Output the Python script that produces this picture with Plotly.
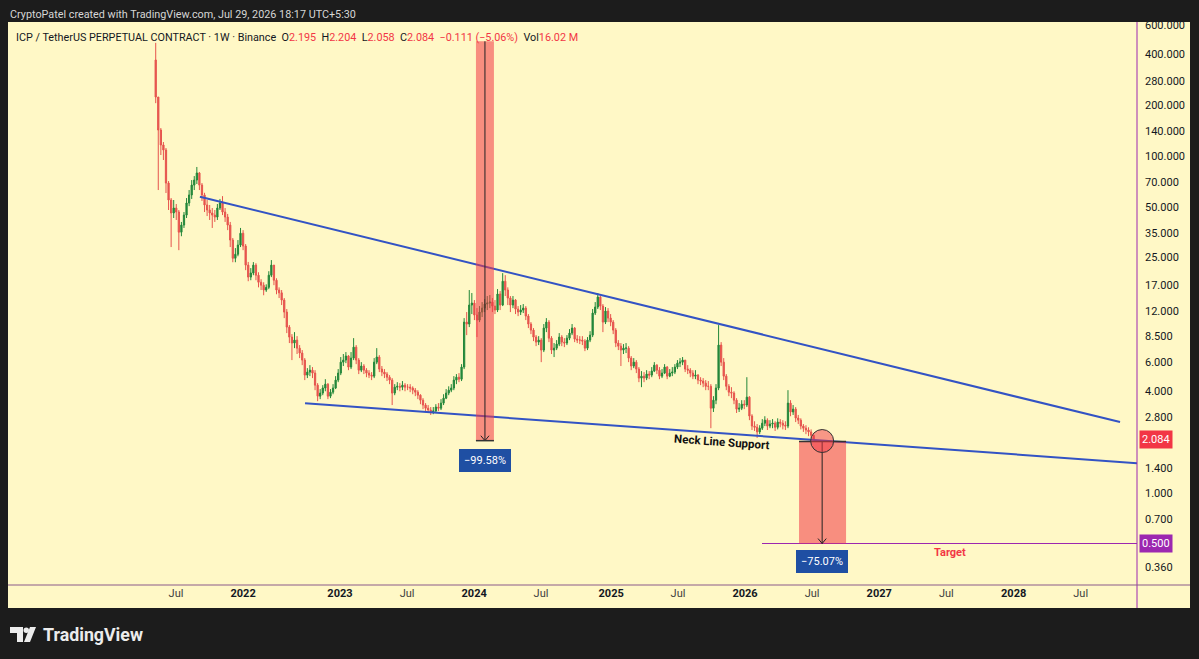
import math
import plotly.graph_objects as go

# ---------------- data (weekly candles, ICP/USDT perp) ----------------
first_open = 372
close = [
    224, 142.7, 116.3, 108.6, 69.1, 54.8, 45.9, 49.1, 46.5, 35.3,
    38.9, 44.6, 52.6, 58.7, 67.2, 72.0, 79.3, 67.2, 58.7, 51.2,
    47.8, 45.9, 44.6, 43.4, 49.1, 52.6, 46.5, 43.4, 38.9, 31.7,
    24.7, 26.1, 29.6, 34.8, 29.2, 22.5, 19.1, 20.2, 22.5, 19.6,
    17.8, 17.1, 16.0, 16.6, 19.6, 22.5, 18.3, 16.0, 15.4, 13.95,
    11.84, 9.64, 8.41, 7.75, 8.07, 7.23, 6.76, 6.14, 5.00, 5.21,
    5.35, 5.14, 4.36, 3.75, 3.91, 4.19, 4.42, 3.75, 3.96, 4.19,
    4.67, 5.14, 5.97, 6.14, 6.49, 5.58, 6.31, 7.33, 6.14, 5.35,
    5.66, 5.35, 5.14, 5.00, 4.93, 5.97, 6.40, 5.43, 5.21, 5.07,
    4.86, 4.67, 3.91, 4.24, 4.29, 4.24, 4.36, 4.24, 4.24, 4.19,
    4.07, 3.96, 3.80, 3.55, 3.32, 3.18, 3.10, 3.02, 3.06, 3.23,
    3.18, 3.41, 3.65, 3.91, 4.07, 4.19, 4.67, 4.86, 4.73, 5.58,
    10.32, 10.05, 13.03, 13.39, 11.37, 10.61, 11.84, 12.5, 13.21, 13.39,
    13.57, 12.85, 12.17, 15.15, 13.03, 18.05, 16.0, 14.34, 13.03, 13.95,
    12.33, 11.84, 12.17, 12.5, 11.21, 10.05, 9.25, 8.41, 7.85, 8.07,
    7.04, 9.51, 10.32, 8.29, 7.04, 7.23, 7.64, 8.41, 7.85, 7.75,
    8.29, 8.88, 9.51, 8.18, 8.07, 8.07, 7.96, 7.23, 8.07, 8.64,
    11.68, 12.68, 14.54, 12.85, 10.32, 12.0, 10.91, 10.32, 9.25, 7.75,
    7.43, 7.04, 7.23, 7.23, 6.31, 5.66, 5.97, 5.43, 4.80, 4.93,
    4.80, 5.07, 5.00, 5.28, 5.73, 5.35, 4.93, 5.14, 5.58, 4.93,
    5.14, 5.21, 5.58, 5.89, 5.97, 6.14, 5.43, 5.35, 5.14, 4.93,
    5.00, 4.67, 4.61, 4.48, 4.29, 4.29, 3.18, 3.55, 4.19, 7.54,
    5.97, 4.93, 4.29, 3.96, 3.91, 3.55, 3.14, 3.18, 3.36, 3.32,
    3.70, 2.86, 2.49, 2.45, 2.30, 2.42, 2.59, 2.70, 2.49, 2.56,
    2.59, 2.45, 2.63, 2.59, 2.52, 2.49, 3.41, 3.02, 3.14, 2.78,
    2.70, 2.49, 2.42, 2.36, 2.30, 2.195, 2.084,
]
high = [
    470, 224, 146.6, 121.1, 111.6, 71.0, 56.3, 54.8, 51.9, 47.8,
    40.6, 46.5, 56.3, 62.8, 72.0, 76.0, 86.1, 80.4, 69.1, 60.5,
    54.8, 51.2, 49.1, 47.8, 51.9, 55.6, 57.8, 49.1, 45.3, 40.6,
    32.6, 28.4, 31.7, 37.4, 36.3, 30.0, 23.5, 21.6, 23.45, 23.1,
    20.4, 18.55, 17.8, 17.3, 20.7, 24.1, 22.2, 18.8, 16.6, 16.0,
    14.34, 12.34, 9.91, 8.76, 9.0, 8.52, 7.54, 7.04, 6.31, 5.50,
    5.73, 5.58, 5.35, 4.48, 4.13, 4.36, 4.73, 4.48, 4.13, 4.42,
    4.93, 5.43, 6.40, 6.67, 6.85, 6.57, 6.85, 8.29, 7.54, 6.31,
    5.97, 5.81, 5.50, 5.35, 5.21, 6.31, 7.23, 6.57, 5.66, 5.43,
    5.21, 5.00, 4.80, 4.42, 4.54, 4.48, 4.61, 4.48, 4.42, 4.42,
    4.29, 4.19, 4.07, 3.85, 3.65, 3.41, 3.32, 3.23, 3.23, 3.36,
    3.41, 3.60, 3.85, 4.13, 4.29, 4.42, 4.93, 5.07, 5.14, 5.81,
    10.9, 11.84, 16.0, 15.36, 13.95, 12.5, 12.85, 13.57, 14.14, 14.74,
    14.94, 14.34, 13.95, 16.22, 15.78, 20.16, 19.6, 16.6, 14.74, 14.74,
    14.14, 12.85, 13.03, 13.21, 12.85, 11.52, 10.32, 9.51, 8.64, 8.52,
    8.29, 10.05, 10.9, 10.61, 8.52, 7.75, 8.07, 8.88, 8.64, 8.29,
    8.64, 9.38, 10.05, 9.64, 8.64, 8.52, 8.52, 8.18, 8.41, 9.12,
    12.34, 13.57, 15.36, 14.74, 13.21, 12.68, 12.5, 11.52, 10.61, 9.51,
    8.07, 7.75, 7.64, 7.75, 7.43, 6.49, 6.31, 6.14, 5.58, 5.28,
    5.21, 5.35, 5.28, 5.58, 5.97, 5.81, 5.58, 5.43, 5.81, 5.66,
    5.43, 5.58, 5.81, 6.14, 6.31, 6.40, 6.14, 5.73, 5.50, 5.35,
    5.35, 5.07, 4.86, 4.80, 4.67, 4.61, 4.42, 3.75, 4.42, 9.91,
    7.85, 6.31, 5.07, 4.42, 4.24, 4.01, 3.65, 3.41, 3.55, 3.55,
    4.86, 3.75, 2.93, 2.66, 2.56, 2.52, 2.74, 2.85, 2.77, 2.70,
    2.74, 2.66, 2.77, 2.74, 2.70, 2.66, 4.07, 3.55, 3.32, 3.23,
    2.90, 2.77, 2.56, 2.52, 2.45, 2.38, 2.204,
]
low = [
    206, 62.8, 101.4, 94.7, 60.3, 47.8, 28.8, 42.85, 41.7, 27.6,
    33.4, 37.4, 42.85, 50.4, 55.6, 62.8, 68.2, 62.8, 54.1, 46.5,
    44.0, 41.7, 37.4, 40.6, 41.7, 47.8, 44.6, 40.6, 36.3, 28.8,
    23.4, 23.4, 25.4, 28.8, 27.6, 21.0, 18.05, 18.3, 19.6, 18.3,
    16.6, 16.0, 14.9, 15.6, 16.2, 19.1, 17.1, 15.1, 14.34, 13.03,
    10.9, 8.88, 7.75, 6.14, 7.23, 6.67, 6.31, 5.73, 4.67, 4.80,
    4.93, 4.80, 4.07, 3.50, 3.60, 3.80, 4.01, 3.60, 3.65, 3.85,
    4.13, 4.54, 5.00, 5.66, 5.89, 5.35, 5.43, 6.14, 5.81, 5.07,
    5.21, 5.07, 4.86, 4.80, 4.67, 4.80, 5.81, 5.21, 4.93, 4.80,
    4.61, 4.42, 3.32, 3.80, 4.07, 4.01, 4.07, 4.01, 4.07, 3.96,
    3.85, 3.75, 3.60, 3.36, 3.14, 3.06, 2.98, 2.90, 2.93, 2.98,
    3.06, 3.10, 3.32, 3.60, 3.80, 3.96, 4.07, 4.42, 4.54, 4.61,
    5.43, 8.64, 9.64, 11.52, 10.61, 8.41, 10.32, 11.06, 11.84, 12.17,
    12.5, 11.84, 11.52, 11.84, 12.17, 12.85, 14.74, 13.03, 11.84, 12.5,
    11.52, 11.2, 11.37, 11.68, 10.61, 9.51, 8.76, 7.96, 7.43, 7.54,
    5.97, 6.85, 9.0, 7.85, 6.67, 6.40, 7.04, 7.43, 7.43, 7.33,
    7.54, 8.07, 8.64, 7.85, 7.75, 7.64, 7.54, 6.94, 7.04, 7.85,
    8.41, 11.37, 12.34, 12.17, 9.0, 10.05, 10.32, 9.76, 8.76, 7.33,
    7.04, 5.66, 6.67, 6.76, 5.97, 5.35, 5.50, 5.14, 4.54, 4.24,
    4.54, 4.67, 4.73, 4.86, 5.21, 5.07, 4.73, 4.80, 5.07, 4.73,
    4.86, 4.93, 5.07, 5.43, 5.58, 5.73, 5.21, 5.07, 4.86, 4.73,
    4.73, 4.42, 4.36, 4.24, 4.07, 4.07, 2.42, 3.02, 3.36, 4.07,
    5.66, 4.67, 4.07, 3.75, 3.65, 3.36, 2.98, 3.02, 3.10, 3.14,
    3.23, 2.70, 2.36, 2.33, 2.12, 2.23, 2.36, 2.49, 2.36, 2.42,
    2.42, 2.33, 2.38, 2.45, 2.38, 2.36, 2.42, 2.85, 2.90, 2.63,
    2.56, 2.38, 2.30, 2.23, 2.17, 2.12, 2.058,
]
open_ = [first_open] + close[:-1]
bar = list(range(len(close)))

# x-axis labels (bar index of each label)
x_tick_bars = [7.9, 34.0, 71.7, 97.8, 123.9, 149.9, 177.2, 203.2, 229.3, 255.4, 281.5, 307.6, 333.8, 359.9]
x_tick_text = ["Jul", "2022", "2023", "Jul", "2024", "Jul", "2025", "Jul", "2026", "Jul", "2027", "Jul", "2028", "Jul"]
y_ticks = [600, 400, 280, 200, 140, 100, 70, 50, 35, 25, 17, 12, 8.5, 6, 4, 2.8, 1.4, 1.0, 0.7, 0.36]

# drawings (bar index, price)
upper_line = ([17.2, 375.2], [57.3, 2.63])
lower_line = ([58.1, 381.8], [3.40, 1.50])
measure1 = dict(x0=124.6, x1=131.6, xa=128.1, top=480, bottom=2.04, label="−99.58%")
measure2 = dict(x0=250.3, x1=268.6, xa=259.3, top=2.02, bottom=0.50, label="−75.07%")
target_price = 0.5
target_start = 235.9
last_price = 2.084

# ---------------- style ----------------
X_RANGE = [-57.47, 381.8]
Y_RANGE = [math.log10(0.2835), math.log10(625)]
BG_DARK = "#1c1c1c"
BG_YELLOW = "#fff8c6"
UP = "#23873a"
DOWN = "#e6544d"
BLUE = "#3353c4"
PURPLE = "#9c27b0"
RED = "#f23645"
FONT = "Roboto"
L, R, T, B = 8, 62, 22, 74
W, H = 1199, 659
PW, PH = W - L - R, H - T - B


def px(xp):
    return (xp - L) / PW


def py(yp):
    return (H - B - yp) / PH


fig = go.Figure()

fig.add_trace(go.Candlestick(
    x=bar, open=open_, high=high, low=low, close=close,
    increasing=dict(line=dict(color=UP, width=1), fillcolor=UP),
    decreasing=dict(line=dict(color=DOWN, width=1), fillcolor=DOWN),
    whiskerwidth=0, hoverinfo="skip", showlegend=False,
))

# trend lines
for xs, ys in (upper_line, lower_line):
    fig.add_trace(go.Scatter(x=xs, y=ys, mode="lines", line=dict(color=BLUE, width=2),
                             hoverinfo="skip", showlegend=False))

# target line
fig.add_trace(go.Scatter(x=[target_start, X_RANGE[1]], y=[target_price, target_price], mode="lines",
                         line=dict(color=PURPLE, width=1), hoverinfo="skip", showlegend=False))

# measure boxes
for m in (measure1, measure2):
    fig.add_trace(go.Scatter(
        x=[m["x0"], m["x1"], m["x1"], m["x0"], m["x0"]],
        y=[m["bottom"], m["bottom"], m["top"], m["top"], m["bottom"]],
        mode="lines", fill="toself", fillcolor="rgba(242,54,69,0.55)",
        line=dict(width=0), hoverinfo="skip", showlegend=False))
    fig.add_trace(go.Scatter(x=[m["xa"], m["xa"]], y=[m["top"], m["bottom"]], mode="lines",
                             line=dict(color="#222222", width=1), hoverinfo="skip", showlegend=False))
    fig.add_trace(go.Scatter(x=[m["xa"] - 1.6, m["xa"], m["xa"] + 1.6],
                             y=[m["bottom"] * 1.07, m["bottom"], m["bottom"] * 1.07], mode="lines",
                             line=dict(color="#222222", width=1), hoverinfo="skip", showlegend=False))

# edge lines of measures
fig.add_trace(go.Scatter(x=[measure1["x0"], measure1["x1"]], y=[measure1["bottom"]] * 2, mode="lines",
                         line=dict(color="#333333", width=1.5), hoverinfo="skip", showlegend=False))
fig.add_trace(go.Scatter(x=[measure2["x0"], measure2["x1"]], y=[measure2["top"]] * 2, mode="lines",
                         line=dict(color="#333333", width=1.5), hoverinfo="skip", showlegend=False))

# circle
fig.add_trace(go.Scatter(x=[measure2["xa"]], y=[2.03], mode="markers",
                         marker=dict(size=23, color="rgba(242,54,69,0.5)", line=dict(color="#333333", width=1)),
                         hoverinfo="skip", showlegend=False))

ann = []
# measure labels
ann.append(dict(x=measure1["xa"], y=math.log10(1.56), xref="x", yref="y", text=measure1["label"],
                showarrow=False, font=dict(color="white", size=11, family=FONT),
                bgcolor="#1f4fa3", bordercolor="#1f4fa3", borderpad=4))
ann.append(dict(x=measure2["xa"], y=math.log10(0.39), xref="x", yref="y", text=measure2["label"],
                showarrow=False, font=dict(color="white", size=11, family=FONT),
                bgcolor="#1f4fa3", bordercolor="#1f4fa3", borderpad=4))
ann.append(dict(x=220.5, y=math.log10(1.99), xref="x", yref="y", text="<b>Neck Line Support</b>",
                showarrow=False, textangle=4, font=dict(color="#111111", size=11.5, family=FONT)))
ann.append(dict(x=309, y=math.log10(0.442), xref="x", yref="y", text="<b>Target</b>",
                showarrow=False, font=dict(color=RED, size=11, family=FONT)))
# axis price labels
ann.append(dict(x=px(1139), y=math.log10(last_price), xref="paper", yref="y", xanchor="left",
                text=f"{last_price:.3f}", showarrow=False, font=dict(color="white", size=11, family=FONT),
                bgcolor=RED, borderpad=2))
ann.append(dict(x=px(1139), y=math.log10(target_price), xref="paper", yref="y", xanchor="left",
                text=f"{target_price:.3f}", showarrow=False, font=dict(color="white", size=11, family=FONT),
                bgcolor=PURPLE, borderpad=2))
# header legend
rs = "<span style='color:#f23645'>"
hdr = ("ICP / TetherUS PERPETUAL CONTRACT · 1W · Binance  "
       f"O{rs}2.195</span>  H{rs}2.204</span>  L{rs}2.058</span>  C{rs}2.084</span>  "
       f"{rs}−0.111 (−5.06%)</span>  Vol{rs}16.02 M</span>")
ann.append(dict(x=px(14), y=py(37), xref="paper", yref="paper", xanchor="left", yanchor="middle",
                text=hdr, showarrow=False, font=dict(color="#131722", size=10.8, family=FONT)))
# top caption
ann.append(dict(x=px(8), y=py(14), xref="paper", yref="paper", xanchor="left", yanchor="middle",
                text="CryptoPatel created with TradingView.com, Jul 29, 2026 18:17 UTC+5:30",
                showarrow=False, font=dict(color="#d6d6d6", size=10.8, family=FONT)))
# footer brand
ann.append(dict(x=px(41), y=py(634), xref="paper", yref="paper", xanchor="left", yanchor="middle",
                text="<b>TradingView</b>", showarrow=False, font=dict(color="#ececec", size=17.8, family=FONT)))

shapes = [
    # yellow panel extension (axis areas)
    dict(type="rect", xref="paper", yref="paper", x0=px(8), x1=px(1190), y0=py(608), y1=py(22),
         fillcolor=BG_YELLOW, line=dict(width=0), layer="below"),
    # axis borders
    dict(type="line", xref="paper", yref="paper", x0=px(1137), x1=px(1137), y0=py(608), y1=py(22),
         line=dict(color=PURPLE, width=1)),
    dict(type="line", xref="paper", yref="paper", x0=px(8), x1=px(1190), y0=py(585), y1=py(585),
         line=dict(color="#8a5a8a", width=1)),
    # TradingView logo glyph
    dict(type="path", xref="paper", yref="paper",
         path=f"M {px(10)} {py(627)} L {px(23)} {py(627)} L {px(23)} {py(642)} L {px(17)} {py(642)} "
              f"L {px(17)} {py(633)} L {px(10)} {py(633)} Z",
         fillcolor="#ececec", line=dict(width=0)),
    dict(type="circle", xref="paper", yref="paper", x0=px(23.5), x1=px(29), y0=py(633), y1=py(627.5),
         fillcolor="#ececec", line=dict(width=0)),
    dict(type="path", xref="paper", yref="paper",
         path=f"M {px(30)} {py(627)} L {px(36)} {py(627)} L {px(30)} {py(642)} L {px(24)} {py(642)} Z",
         fillcolor="#ececec", line=dict(width=0)),
]

x_text = [f"<b>{t}</b>" if t.isdigit() else f"<span style='color:#3d3d3d'>{t}</span>" for t in x_tick_text]

fig.update_layout(
    width=W, height=H,
    margin=dict(l=L, r=R, t=T, b=B),
    paper_bgcolor=BG_DARK, plot_bgcolor=BG_YELLOW,
    showlegend=False, hovermode=False,
    font=dict(family=FONT, color="#131722"),
    annotations=ann, shapes=shapes,
    xaxis=dict(range=X_RANGE, showgrid=False, zeroline=False, showline=False,
               rangeslider=dict(visible=False), tickmode="array",
               tickvals=x_tick_bars, ticktext=x_text, ticks="",
               tickfont=dict(size=11, color="#131722", family=FONT), fixedrange=True),
    yaxis=dict(type="log", side="right", range=Y_RANGE, showgrid=False, zeroline=False,
               showline=False, tickmode="array", tickvals=y_ticks,
               ticktext=[f"{v:.3f}" for v in y_ticks], ticks="", ticklabelstandoff=7,
               tickfont=dict(size=11, color="#131722", family=FONT), fixedrange=True),
)

fig.write_html("out.html", config={"displayModeBar": False, "staticPlot": True})
